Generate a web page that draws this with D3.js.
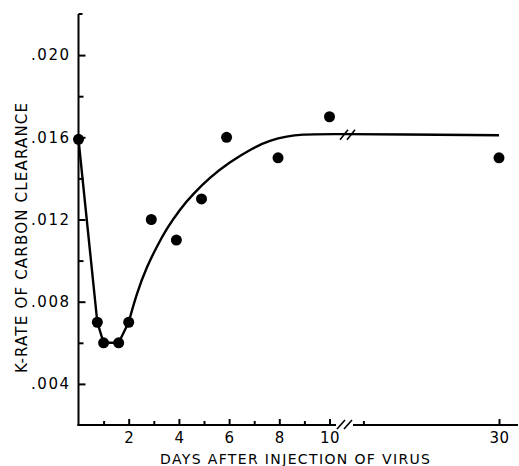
<!DOCTYPE html>
<html>
<head>
<meta charset="utf-8">
<script src="https://cdn.jsdelivr.net/npm/d3@7"></script>
<style>
  html, body { margin: 0; padding: 0; background: #fff; }
  svg { display: block; }
  text { font-family: "DejaVu Sans", sans-serif; fill: #000; }
</style>
</head>
<body>
<svg id="chart" width="519" height="466"></svg>
<script>
// ---- data ----
const days = [0, 0.75, 1, 1.6, 2, 2.9, 3.9, 4.9, 5.9, 7.95, 10, 30];
const kRate = [0.0159, 0.007, 0.006, 0.006, 0.007, 0.012, 0.011, 0.013, 0.016, 0.015, 0.017, 0.015];
// fitted curve: straight segments through the early trough ...
const troughDays = [0, 0.75, 1, 1.6, 2];
const troughK = [0.0159, 0.007, 0.006, 0.006, 0.007];
// ... then a smooth recovery curve
const recoveryDays = [2, 2.32, 2.72, 3.12, 3.51, 4.04, 4.57, 5.24, 5.97, 6.96, 7.63, 8.29, 8.96, 9.62, 30];
const recoveryK = [0.007, 0.00841, 0.0097, 0.01068, 0.01155, 0.0125, 0.01325, 0.01405, 0.01475, 0.0155, 0.01585, 0.01605, 0.01614, 0.01617, 0.0161];
const yMajorTicks = [0.004, 0.008, 0.012, 0.016, 0.020];
const yMinorTicks = [0.006, 0.010, 0.014, 0.018];
const xMajorTicks = [2, 4, 6, 8, 10, 30];
const xMinorTicks = [1, 3, 5, 7, 9, 14];
const yTickLabels = [".004", ".008", ".012", ".016", ".020"];
const xTickLabels = ["2", "4", "6", "8", "10", "30"];
const xTitle = "DAYS AFTER INJECTION OF VIRUS";
const yTitle = "K-RATE OF CARBON CLEARANCE";

const svg = d3.select("#chart");

// broken x scale: 0-10, then 10-30 compressed
const x = d3.scaleLinear().domain([0, 10, 30]).range([78.5, 329.5, 499]);
const y = d3.scaleLinear().domain([0.002, 0.022]).range([425, 14]);

const axisY = 425, axisX = x(0);

// Y axis line
svg.append("line")
  .attr("x1", axisX).attr("x2", axisX)
  .attr("y1", y(0.022)).attr("y2", axisY + 1)
  .attr("stroke", "#000").attr("stroke-width", 2);
// top serif
svg.append("line")
  .attr("x1", axisX).attr("x2", axisX + 4)
  .attr("y1", y(0.022)).attr("y2", y(0.022))
  .attr("stroke", "#000").attr("stroke-width", 2);

// Y major ticks with labels
const yMajor = svg.append("g").attr("transform", `translate(${axisX},0)`)
  .call(d3.axisLeft(y).tickValues(yMajorTicks).tickSize(-7).tickPadding(8)
    .tickFormat((d, i) => yTickLabels[i]));
yMajor.select(".domain").remove();
yMajor.selectAll(".tick line").attr("stroke", "#000").attr("stroke-width", 2);
yMajor.selectAll(".tick text").attr("font-size", 15).attr("letter-spacing", 1.5)
  .attr("font-family", "DejaVu Sans").attr("fill", "#000");

const yMinor = svg.append("g").attr("transform", `translate(${axisX},0)`)
  .call(d3.axisLeft(y).tickValues(yMinorTicks).tickSize(-5).tickFormat(""));
yMinor.select(".domain").remove();
yMinor.selectAll(".tick line").attr("stroke", "#000").attr("stroke-width", 2);

// X axis line segments
svg.append("line")
  .attr("x1", axisX - 1).attr("x2", 336)
  .attr("y1", axisY).attr("y2", axisY)
  .attr("stroke", "#000").attr("stroke-width", 2);
svg.append("line")
  .attr("x1", 353).attr("x2", 518)
  .attr("y1", axisY).attr("y2", axisY)
  .attr("stroke", "#000").attr("stroke-width", 2);
// axis break marks
[[337, 345], [344, 352]].forEach(([a, b]) => {
  svg.append("line")
    .attr("x1", a).attr("y1", axisY + 4).attr("x2", b).attr("y2", axisY - 5)
    .attr("stroke", "#000").attr("stroke-width", 1.6);
});

const xMajor = svg.append("g").attr("transform", `translate(0,${axisY})`)
  .call(d3.axisBottom(x).tickValues(xMajorTicks).tickSize(-6).tickPadding(7)
    .tickFormat((d, i) => xTickLabels[i]));
xMajor.select(".domain").remove();
xMajor.selectAll(".tick line").attr("stroke", "#000").attr("stroke-width", 2);
xMajor.selectAll(".tick text").attr("font-size", 15).attr("letter-spacing", 0.5)
  .attr("font-family", "DejaVu Sans").attr("fill", "#000");

const xMinor = svg.append("g").attr("transform", `translate(0,${axisY})`)
  .call(d3.axisBottom(x).tickValues(xMinorTicks).tickSize(-4).tickFormat(""));
xMinor.select(".domain").remove();
xMinor.selectAll(".tick line").attr("stroke", "#000").attr("stroke-width", 2);

// Fitted curve
const trough = troughDays.map((d, i) => [d, troughK[i]]);
const recovery = recoveryDays.map((d, i) => [d, recoveryK[i]]);
svg.append("path")
  .datum(trough)
  .attr("fill", "none").attr("stroke", "#000").attr("stroke-width", 2.4)
  .attr("stroke-linejoin", "round")
  .attr("d", d3.line().x(d => x(d[0])).y(d => y(d[1])).curve(d3.curveLinear));
svg.append("path")
  .datum(recovery)
  .attr("fill", "none").attr("stroke", "#000").attr("stroke-width", 2.4)
  .attr("d", d3.line().x(d => x(d[0])).y(d => y(d[1])).curve(d3.curveBasis));

// break marks on the curve
const cy = y(0.01612);
[[340, 348], [347, 355]].forEach(([a, b]) => {
  svg.append("line")
    .attr("x1", a).attr("y1", cy + 5).attr("x2", b).attr("y2", cy - 5)
    .attr("stroke", "#000").attr("stroke-width", 1.6);
});

// Points
svg.append("g").selectAll("circle")
  .data(days.map((d, i) => [d, kRate[i]]))
  .join("circle")
  .attr("cx", d => x(d[0])).attr("cy", d => y(d[1]))
  .attr("r", 5.5).attr("fill", "#000");

// Titles
svg.append("text")
  .attr("x", 160).attr("y", 464)
  .attr("font-size", 14)
  .attr("textLength", 270).attr("lengthAdjust", "spacing")
  .text(xTitle);

svg.append("text")
  .attr("transform", "translate(27,373) rotate(-90)")
  .attr("x", 0).attr("y", 0)
  .attr("font-size", 15)
  .attr("textLength", 270).attr("lengthAdjust", "spacing")
  .text(yTitle);
</script>
</body>
</html>
